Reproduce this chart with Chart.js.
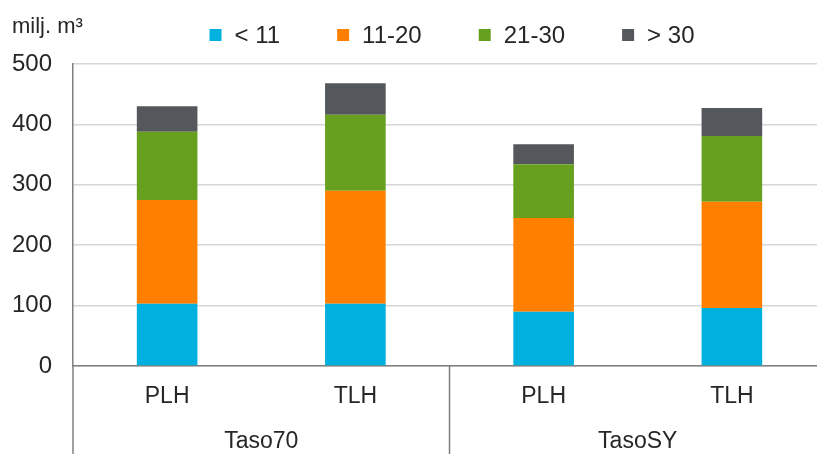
<!DOCTYPE html>
<html>
<head>
<meta charset="utf-8">
<script src="https://cdn.jsdelivr.net/npm/chart.js@4/dist/chart.umd.min.js"></script>
<style>
  html, body { margin: 0; padding: 0; background: #ffffff; overflow: hidden; }
  #wrap { width: 817px; height: 454px; overflow: hidden; position: relative; }
  #wrap canvas { position: absolute; left: 0; top: 0; }
</style>
</head>
<body>
<div id="wrap"><canvas id="c" width="826" height="454"></canvas></div>
<script>
// Categories: two scenario groups, each split into PLH / TLH
const groups = ['Taso70', 'TasoSY'];
const categories = ['PLH', 'TLH', 'PLH', 'TLH'];
const unitLabel = 'milj. m³';

// Diameter classes (series) and their volumes, milj. m³
const seriesNames = ['< 11', '11-20', '21-30', '> 30'];
const under11 = [103, 103, 90, 96];
const from11to20 = [172, 187, 155, 176];
const from21to30 = [113, 126, 89, 109];
const over30 = [42, 52, 33, 46];

const yTicks = [0, 100, 200, 300, 400, 500];

const seriesColors = ['#00B0DE', '#FF8000', '#66A01E', '#54575B'];
const FONT = "'Liberation Sans', Arial, sans-serif";
const TEXT = '#262626';
const AXIS = '#7f7f7f';

// Second row of x labels (group names) with separator lines
const groupAxis = {
  id: 'groupAxis',
  afterDraw(chart) {
    const { ctx, chartArea } = chart;
    const xs = chart.scales.x;
    const per = categories.length / groups.length;
    ctx.save();
    ctx.strokeStyle = AXIS;
    ctx.lineWidth = 1.5;
    for (let g = 0; g <= groups.length; g++) {
      let x;
      if (g === 0) x = chartArea.left;
      else if (g === groups.length) x = chartArea.right;
      else x = (xs.getPixelForValue(g * per - 1) + xs.getPixelForValue(g * per)) / 2;
      ctx.beginPath();
      ctx.moveTo(x, chartArea.bottom);
      ctx.lineTo(x, chart.height);
      ctx.stroke();
    }
    ctx.fillStyle = TEXT;
    ctx.font = '23px ' + FONT;
    ctx.textAlign = 'center';
    ctx.textBaseline = 'middle';
    groups.forEach((name, g) => {
      const a = xs.getPixelForValue(g * per);
      const b = xs.getPixelForValue(g * per + per - 1);
      ctx.fillText(name, (a + b) / 2, chartArea.bottom + 76);
    });
    ctx.restore();
  }
};

// Unit caption and a single-row legend above the plot
const topLegend = {
  id: 'topLegend',
  afterDraw(chart) {
    const { ctx, chartArea } = chart;
    ctx.save();
    ctx.fillStyle = TEXT;
    ctx.font = '22px ' + FONT;
    ctx.textAlign = 'left';
    ctx.textBaseline = 'alphabetic';
    ctx.fillText(unitLabel, 12, chartArea.top - 31);

    const box = 12, gap = 13, itemGap = 57;
    ctx.font = '24px ' + FONT;
    const ds = chart.data.datasets;
    const widths = ds.map(d => box + gap + ctx.measureText(d.label).width);
    const total = widths.reduce((s, w) => s + w, 0) + itemGap * (ds.length - 1);
    const center = 452;
    const cy = chartArea.top - 29;
    let x = center - total / 2;
    ctx.textBaseline = 'middle';
    ds.forEach((d, i) => {
      ctx.fillStyle = d.backgroundColor;
      ctx.fillRect(x, cy - box / 2, box, box);
      ctx.fillStyle = TEXT;
      ctx.fillText(d.label, x + box + gap, cy + 1);
      x += widths[i] + itemGap;
    });
    ctx.restore();
  }
};

const seriesValues = [under11, from11to20, from21to30, over30];

new Chart(document.getElementById('c'), {
  type: 'bar',
  data: {
    labels: categories,
    datasets: seriesNames.map((name, i) => ({
      label: name,
      data: seriesValues[i],
      backgroundColor: seriesColors[i],
      borderWidth: 0,
      barPercentage: 0.322,
      categoryPercentage: 1
    }))
  },
  options: {
    responsive: false,
    animation: false,
    devicePixelRatio: 1,
    layout: { padding: { top: 64, left: 0, right: 0, bottom: 0 } },
    plugins: {
      legend: { display: false },
      title: { display: false },
      tooltip: { enabled: false }
    },
    scales: {
      x: {
        stacked: true,
        grid: { display: false, drawTicks: false },
        border: { display: true, color: AXIS, width: 1.5 },
        ticks: {
          color: TEXT,
          font: { family: FONT, size: 23 },
          padding: 17,
          autoSkip: false,
          maxRotation: 0
        },
        afterFit(scale) { scale.height = 88; }
      },
      y: {
        stacked: true,
        min: yTicks[0],
        max: yTicks[yTicks.length - 1],
        afterBuildTicks(scale) { scale.ticks = yTicks.map(v => ({ value: v })); },
        grid: { color: '#d6d6d6', lineWidth: 1.5, drawTicks: false },
        border: { display: true, color: AXIS, width: 1.5 },
        ticks: {
          color: TEXT,
          font: { family: FONT, size: 24 },
          padding: 21
        },
        afterFit(scale) { scale.width = 73; }
      }
    }
  },
  plugins: [groupAxis, topLegend]
});
</script>
</body>
</html>
